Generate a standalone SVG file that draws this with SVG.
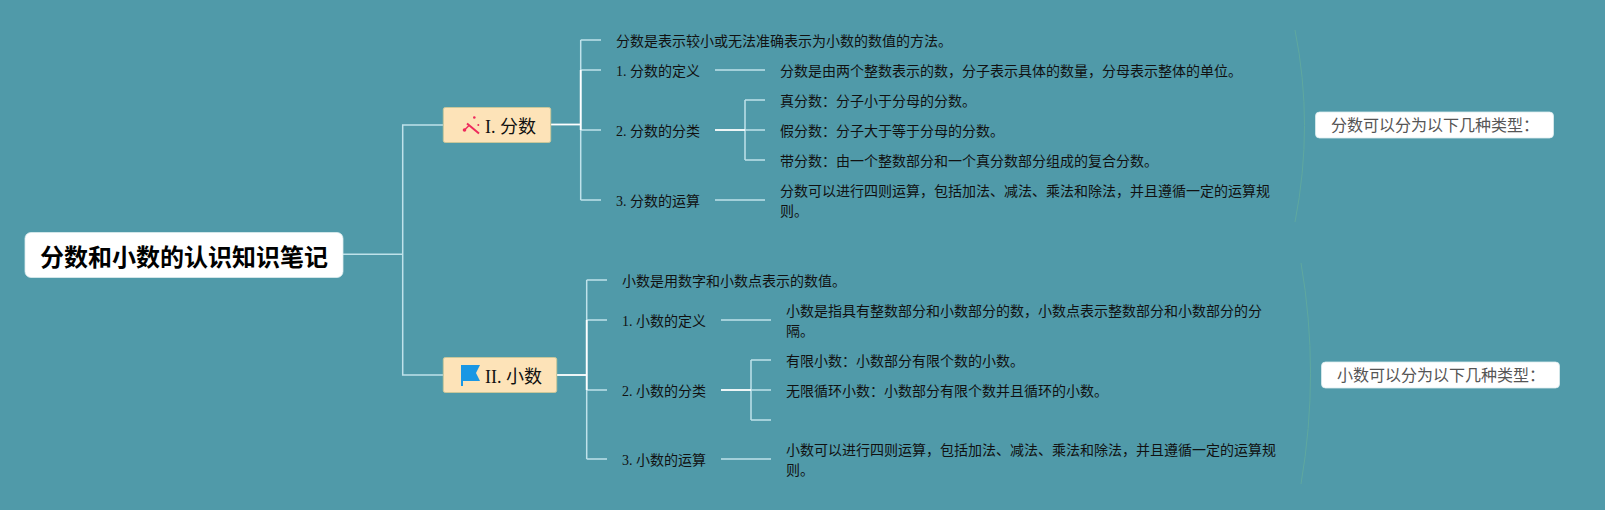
<svg xmlns="http://www.w3.org/2000/svg" width="1605" height="510" viewBox="0 0 1605 510">
<style>
text{font-family:"Liberation Serif","Noto Sans CJK SC",serif;font-size:14px;fill:#111}
.c{fill:none;stroke:#bfe2ea;stroke-width:1.5}
.w{fill:none;stroke:#fff;stroke-width:1.8}
.s{fill:none;stroke:#5fa89f;stroke-width:1}
.b{fill:#fde3b8;stroke:#c9c79a;stroke-width:1}
.l{font-size:18px}
.n{fill:#fff;stroke:#dcecef;stroke-width:.8}
.t{font-size:16px;fill:#555;font-family:"Noto Sans CJK SC",sans-serif}
</style>
<rect width="1605" height="510" fill="#509aa9"/>
<g id="connectors">
<path class="c" d="M343 254.300H402.700M402.700 254.300V125H443M402.700 254.300V375H443"/>
<path class="w" d="M551 124.500H580.700"/>
<path class="c" d="M580.700 40V200M580.700 40H601M580.700 70H601M580.700 130H601M580.700 200H601"/>
<path class="w" d="M580.700 70V130"/>
<path class="c" d="M715 70H765M745 130H765M745 100H765M745 160H765M745 100V160M715 200H765"/>
<path class="w" d="M715 130H745"/>
<path class="w" d="M557 375H586.700"/>
<path class="c" d="M586.700 280V459M586.700 280H607M586.700 320H607M586.700 390H607M586.700 459H607"/>
<path class="w" d="M586.700 320V390"/>
<path class="c" d="M721 320H771M751 390H771M751 360H771M751 420H771M751 360V420M721 459H771"/>
<path class="w" d="M721 390H751"/>
<path class="s" d="M1295 30Q1314 125 1295 222M1301 263Q1320 373 1301 484"/>
</g>
<g id="root"><rect class="n" x="25" y="232.500" width="318" height="45" rx="6"/><text x="40" y="266" style="font-size:24px;font-weight:700;fill:#000;font-family:'Noto Sans CJK SC',sans-serif">分数和小数的认识知识笔记</text></g>
<g id="n1"><rect class="b" x="443.300" y="107.500" width="107.400" height="35" rx="2"/>
<g fill="#ee2a5c"><path d="M467 123.500L479 133.500" stroke="#ee2a5c" stroke-width="2"/><circle cx="474.300" cy="117.500" r="1.300"/><circle cx="478.300" cy="125" r="1"/><circle cx="464.500" cy="130" r="1.800"/><path d="M465 129.500L469 125.500" stroke="#ee2a5c" stroke-width="1.500"/></g>
<text class="l" x="485" y="133">I. 分数</text></g>
<g id="n2"><rect class="b" x="443.300" y="357.500" width="113.400" height="35" rx="2"/>
<path d="M461 365H480L476 373L480 381H463V386H461Z" fill="#1a97e4"/>
<text class="l" x="485" y="383">II. 小数</text></g>
<g id="f0"><text x="616" y="46">分数是表示较小或无法准确表示为小数的数值的方法。</text></g>
<g id="f1"><text x="616" y="76">1. 分数的定义</text></g>
<g id="f1a"><text x="780" y="76">分数是由两个整数表示的数，分子表示具体的数量，分母表示整体的单位。</text></g>
<g id="f2"><text x="616" y="136">2. 分数的分类</text></g>
<g id="f2a"><text x="780" y="106">真分数：分子小于分母的分数。</text></g>
<g id="f2b"><text x="780" y="136">假分数：分子大于等于分母的分数。</text></g>
<g id="f2c"><text x="780" y="166">带分数：由一个整数部分和一个真分数部分组成的复合分数。</text></g>
<g id="f3"><text x="616" y="206">3. 分数的运算</text></g>
<g id="f3a"><text x="780" y="196">分数可以进行四则运算，包括加法、减法、乘法和除法，并且遵循一定的运算规</text><text x="780" y="216">则。</text></g>
<g id="d0"><text x="622" y="286">小数是用数字和小数点表示的数值。</text></g>
<g id="d1"><text x="622" y="326">1. 小数的定义</text></g>
<g id="d1a"><text x="786" y="316">小数是指具有整数部分和小数部分的数，小数点表示整数部分和小数部分的分</text><text x="786" y="336">隔。</text></g>
<g id="d2"><text x="622" y="396">2. 小数的分类</text></g>
<g id="d2a"><text x="786" y="366">有限小数：小数部分有限个数的小数。</text></g>
<g id="d2b"><text x="786" y="396">无限循环小数：小数部分有限个数并且循环的小数。</text></g>
<g id="d3"><text x="622" y="465">3. 小数的运算</text></g>
<g id="d3a"><text x="786" y="455">小数可以进行四则运算，包括加法、减法、乘法和除法，并且遵循一定的运算规</text><text x="786" y="475">则。</text></g>
<g id="s1"><rect class="n" x="1315.500" y="112" width="238" height="26" rx="4"/><text class="t" x="1331" y="131">分数可以分为以下几种类型：</text></g>
<g id="s2"><rect class="n" x="1321.500" y="362" width="238" height="26" rx="4"/><text class="t" x="1337" y="381">小数可以分为以下几种类型：</text></g>
</svg>
